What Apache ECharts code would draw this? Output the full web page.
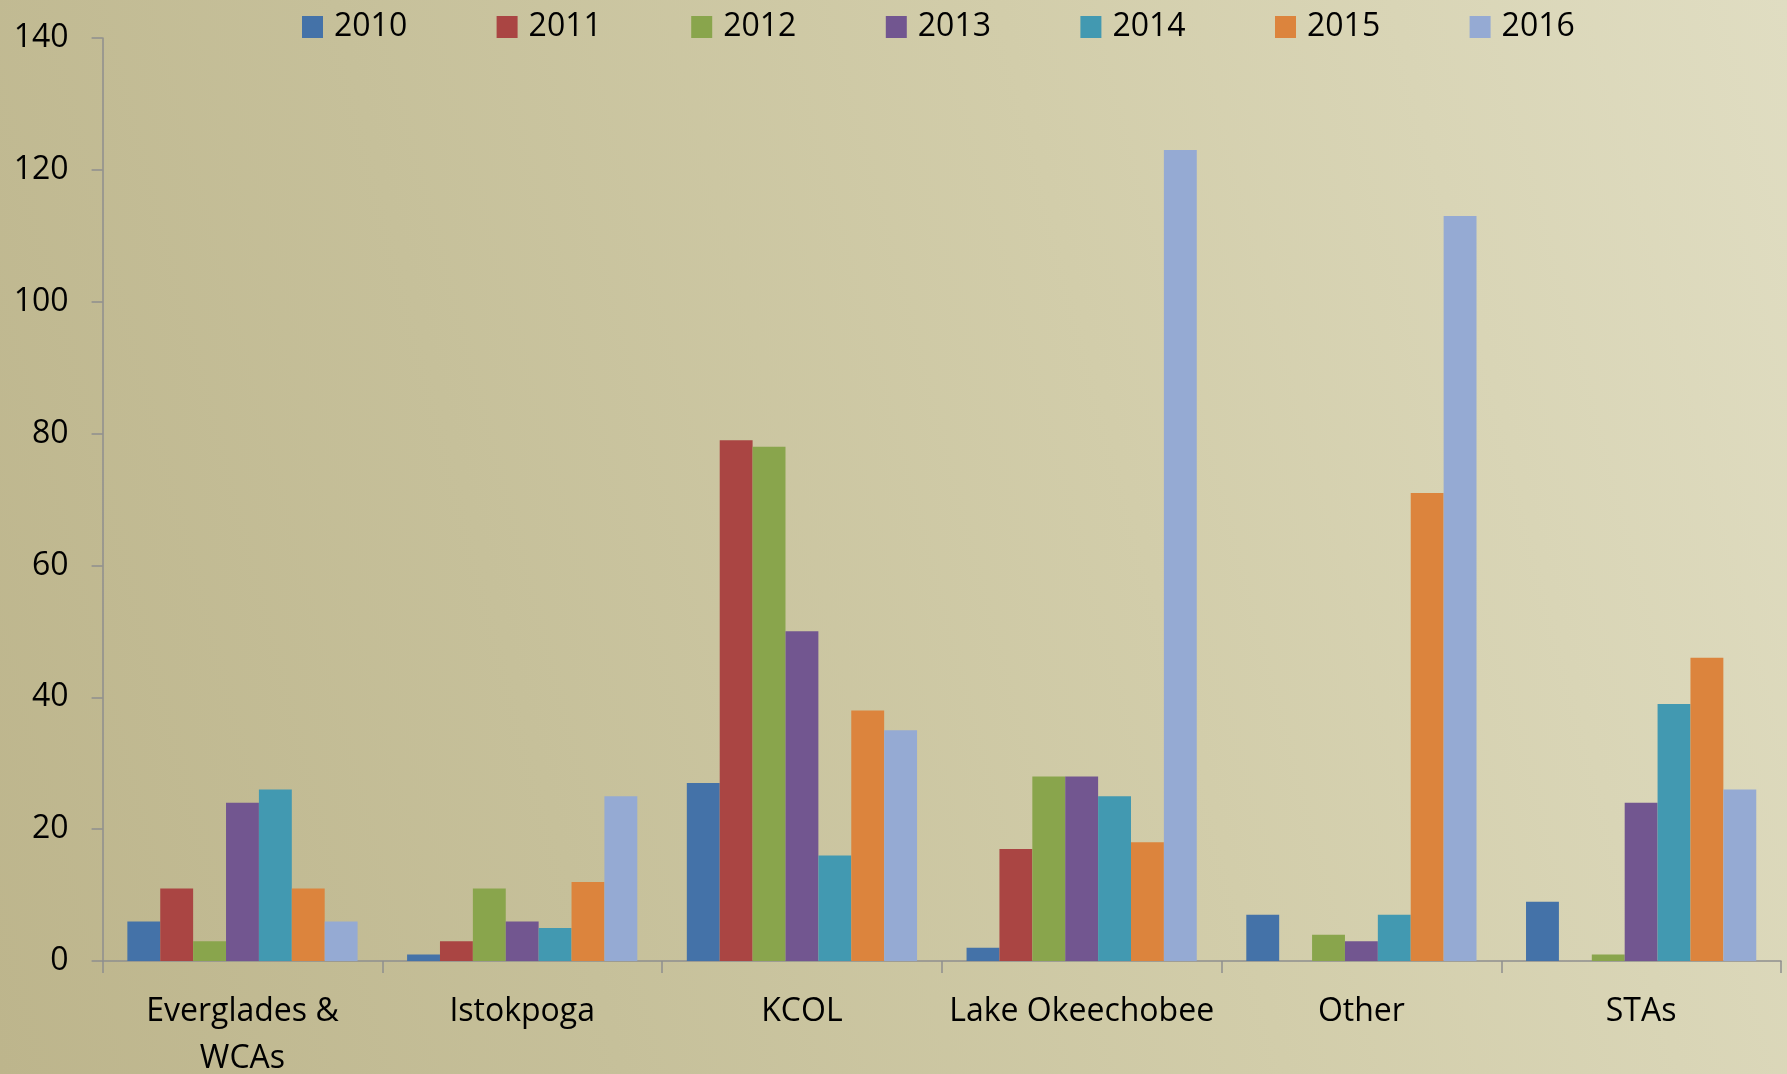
<!DOCTYPE html>
<html>
<head>
<meta charset="utf-8">
<script src="https://cdn.jsdelivr.net/npm/echarts@6/dist/echarts.min.js"></script>
<style>
html,body{margin:0;padding:0;width:1787px;height:1074px;overflow:hidden;}
body{background:linear-gradient(75deg,#bdb58c 0%,#c6c09a 30%,#d2cdaa 62%,#e0ddc2 100%);}
#chart{width:1787px;height:1074px;}
</style>
</head>
<body>
<div id="chart"></div>
<script>
const categories = ['Everglades &\nWCAs', 'Istokpoga', 'KCOL', 'Lake Okeechobee', 'Other', 'STAs'];
const years = ['2010', '2011', '2012', '2013', '2014', '2015', '2016'];
const v2010 = [6, 1, 27, 2, 7, 9];
const v2011 = [11, 3, 79, 17, 0, 0];
const v2012 = [3, 11, 78, 28, 4, 1];
const v2013 = [24, 6, 50, 28, 3, 24];
const v2014 = [26, 5, 16, 25, 7, 39];
const v2015 = [11, 12, 38, 18, 71, 46];
const v2016 = [6, 25, 35, 123, 113, 26];
const yTicks = [0, 20, 40, 60, 80, 100, 120, 140];

const seriesValues = [v2010, v2011, v2012, v2013, v2014, v2015, v2016];
const colors = ['#4472a8', '#aa4543', '#89a54c', '#725690', '#4299b1', '#dc843d', '#95aad3'];
const font = '"Open Sans", sans-serif';

const chart = echarts.init(document.getElementById('chart'));
chart.setOption({
  backgroundColor: 'transparent',
  animation: false,
  color: colors,
  legend: {
    data: years,
    left: 297,
    top: 6,
    itemWidth: 21,
    itemHeight: 22,
    itemGap: 82.6,
    icon: 'rect',
    textStyle: { fontFamily: font, fontSize: 32, lineHeight: 32, color: '#000', width: 80, padding: [0, 0, 0, 6] }
  },
  grid: { left: 102.6, right: 6, top: 38, bottom: 113, containLabel: false, outerBoundsMode: 'none' },
  xAxis: {
    type: 'category',
    data: categories,
    axisLine: { lineStyle: { color: '#8e8e8e', width: 1.5 } },
    axisTick: { show: true, length: 12, alignWithLabel: false, lineStyle: { color: '#8e8e8e', width: 1.5 } },
    axisLabel: { interval: 0, margin: 27, fontFamily: font, fontSize: 32, color: '#000', lineHeight: 47 },
    splitLine: { show: false }
  },
  yAxis: {
    type: 'value',
    min: yTicks[0],
    max: yTicks[yTicks.length - 1],
    interval: 20,
    axisLine: { show: true, lineStyle: { color: '#8e8e8e', width: 1.5 } },
    axisTick: { show: true, length: 11, lineStyle: { color: '#8e8e8e', width: 1.5 } },
    axisLabel: { margin: 34, fontFamily: font, fontSize: 32, color: '#000' },
    splitLine: { show: false }
  },
  series: years.map((y, i) => ({
    name: y,
    type: 'bar',
    data: seriesValues[i],
    barGap: '0%',
    barCategoryGap: '17.7%',
    itemStyle: { color: colors[i] }
  }))
});
</script>
</body>
</html>
